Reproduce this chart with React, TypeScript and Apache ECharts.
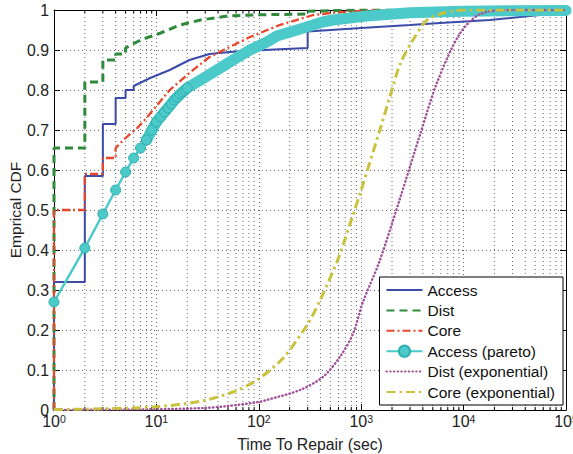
import React, { useEffect, useRef } from "react";
import * as echarts from "echarts";

// ---- data ----
const accessX = [1, 1, 2, 2, 3, 3, 4, 4, 5, 5, 6, 6, 8.7, 13.5, 21, 33, 52, 82, 160, 300, 300, 1000, 3000, 5900, 18000, 55000, 100000];
const accessY = [0, 0.32, 0.32, 0.585, 0.585, 0.715, 0.715, 0.78, 0.78, 0.8, 0.8, 0.81, 0.83, 0.85, 0.875, 0.89, 0.895, 0.898, 0.902, 0.905, 0.946, 0.955, 0.9625, 0.9675, 0.975, 0.9875, 1.0];

const distX = [1, 1, 2, 2, 3, 3, 4, 4, 5, 5, 7, 11, 17, 27, 50, 100, 300, 300, 1000, 100000];
const distY = [0, 0.655, 0.655, 0.82, 0.82, 0.875, 0.875, 0.89, 0.89, 0.905, 0.925, 0.9425, 0.9625, 0.975, 0.985, 0.988, 0.99, 0.997, 1, 1];

const coreX = [1, 1, 2, 2, 3, 3, 4, 4, 5, 6.5, 8, 10, 13.5, 21, 33, 52, 82, 160, 340, 530, 1000, 100000];
const coreY = [0, 0.5, 0.5, 0.59, 0.59, 0.63, 0.63, 0.655, 0.68, 0.705, 0.73, 0.76, 0.8, 0.8425, 0.8825, 0.9075, 0.9325, 0.9625, 0.9875, 0.993, 0.998, 1];

const paretoX = [1, 2, 3, 4, 5, 6, 7, 8, 9, 10, 11, 12, 13, 14, 15, 16, 17, 18, 19, 20];
const paretoY = [0.27, 0.405, 0.49, 0.55, 0.595, 0.63, 0.655, 0.675, 0.7, 0.72, 0.733, 0.745, 0.755, 0.765, 0.775, 0.782, 0.79, 0.795, 0.8, 0.805];

const paretoBandX = [8, 10, 15, 20, 27, 42, 56, 82, 120, 150, 250, 420, 530, 1130, 3000, 10000, 100000];
const paretoBandY = [0.675, 0.72, 0.775, 0.805, 0.825, 0.855, 0.875, 0.9, 0.92, 0.935, 0.952, 0.97, 0.975, 0.985, 0.993, 0.997, 0.999];

const distExpX = [1, 10, 30, 50, 100, 119, 253, 424, 620, 830, 1040, 1500, 2400, 3770, 5530, 9150, 14500, 30000, 100000];
const distExpY = [0, 0.002, 0.005, 0.01, 0.02, 0.025, 0.05, 0.083, 0.133, 0.19, 0.27, 0.37, 0.53, 0.69, 0.82, 0.94, 0.99, 1, 1];

const coreExpX = [1, 3, 10, 27, 56, 96, 173, 300, 398, 600, 800, 1000, 1520, 2050, 2400, 3200, 4400, 5900, 8000, 10000, 100000];
const coreExpY = [0.001, 0.003, 0.008, 0.022, 0.045, 0.075, 0.13, 0.215, 0.275, 0.38, 0.475, 0.55, 0.7, 0.81, 0.865, 0.925, 0.975, 0.99, 0.998, 1, 1];

const legendNames = ["Access", "Dist", "Core", "Access (pareto)", "Dist (exponential)", "Core (exponential)"];
const decades = [1, 10, 100, 1000, 10000];
const minorMultipliers = [2, 3, 4, 5, 6, 7, 8, 9];

const pairs = (xs: number[], ys: number[]) => xs.map((x, i) => [x, ys[i]]);

export default function App() {
  const ref = useRef<HTMLDivElement>(null);
  useEffect(() => {
    const chart = echarts.init(ref.current!, null, { renderer: "svg" });
    const font = "'Liberation Sans', Arial, sans-serif";
    const gridColor = "#666";
    const minorTicks: number[] = [];
    decades.forEach((d) => minorMultipliers.forEach((m) => minorTicks.push(d * m)));

    const xBase = {
      type: "log",
      logBase: 10,
      min: 1,
      max: 100000,
      splitNumber: 5,
      axisLine: { show: true, onZero: false, lineStyle: { color: "#000", width: 1 } },
      axisTick: { show: true, inside: true, length: 6, lineStyle: { color: "#000" } },
    };
    const yBase = {
      type: "value",
      min: 0,
      max: 1,
      interval: 0.1,
      axisLine: { show: true, onZero: false, lineStyle: { color: "#000", width: 1 } },
      axisTick: { show: true, inside: true, length: 6, lineStyle: { color: "#000" } },
    };
    const noSymbol = { color: "rgba(0,0,0,0)", borderWidth: 0, opacity: 0 };

    chart.setOption({
      animation: false,
      backgroundColor: "#fff",
      textStyle: { fontFamily: font },
      grid: { left: 54, right: 7, top: 10, bottom: 44, containLabel: false, outerBoundsMode: "none" },
      legend: {
        data: legendNames.map((n) => (n === "Access (pareto)" ? { name: n } : { name: n, itemStyle: noSymbol })),
        orient: "vertical",
        right: 10,
        bottom: 49,
        backgroundColor: "#fff",
        borderColor: "#000",
        borderWidth: 1,
        borderRadius: 0,
        padding: [5, 8, 5, 6],
        itemWidth: 36,
        itemHeight: 14,
        itemGap: 4.4,
        textStyle: { fontSize: 15.5, color: "#111", fontFamily: font, lineHeight: 15 },
      },
      xAxis: [
        {
          ...xBase,
          position: "bottom",
          splitLine: { show: true, lineStyle: { color: gridColor, type: [1, 3], width: 1 } },
          axisLabel: {
            margin: 3,
            formatter: (v: number) => `{b|10}{s|${Math.round(Math.log10(v))}}`,
            rich: {
              b: { fontSize: 16, lineHeight: 16, padding: [7, 0, 0, 0], verticalAlign: "bottom", color: "#222", fontFamily: font },
              s: { fontSize: 10.5, lineHeight: 10, verticalAlign: "top", color: "#222", fontFamily: font },
            },
          },
          name: "Time To Repair (sec)",
          nameLocation: "middle",
          nameGap: 26,
          nameMoveOverlap: false,
          nameTextStyle: { fontSize: 15.8, color: "#222", fontFamily: font },
        },
        {
          ...xBase,
          position: "top",
          axisLabel: { show: false },
          splitLine: { show: false },
        },
      ],
      yAxis: [
        {
          ...yBase,
          position: "left",
          splitLine: { show: true, lineStyle: { color: gridColor, type: [1, 3], width: 1 } },
          axisLabel: { fontSize: 15.8, color: "#222", margin: 5, fontFamily: font },
          name: "Emprical CDF",
          nameLocation: "middle",
          nameGap: 31,
          nameMoveOverlap: false,
          nameTextStyle: { fontSize: 15.5, color: "#222", fontFamily: font },
        },
        {
          ...yBase,
          position: "right",
          axisLabel: { show: false },
          splitLine: { show: false },
        },
      ],
      series: [
        {
          type: "custom",
          name: "minorGrid",
          silent: true,
          z: 1,
          xAxisIndex: 0,
          yAxisIndex: 0,
          encode: { x: 0, y: 1 },
          data: minorTicks.map((v) => [v, 0]),
          renderItem: (params: any, api: any) => {
            const v = api.value(0);
            const pB = api.coord([v, 0]);
            const pT = api.coord([v, 1]);
            return {
              type: "group",
              children: [
                { type: "line", shape: { x1: pB[0], y1: pB[1], x2: pT[0], y2: pT[1] }, style: { stroke: gridColor, lineWidth: 1, lineDash: [1, 3] } },
                { type: "line", shape: { x1: pB[0], y1: pB[1], x2: pB[0], y2: pB[1] - 3 }, style: { stroke: "#000", lineWidth: 1 } },
                { type: "line", shape: { x1: pT[0], y1: pT[1], x2: pT[0], y2: pT[1] + 3 }, style: { stroke: "#000", lineWidth: 1 } },
              ],
            };
          },
        },
        {
          name: "Access",
          type: "line",
          data: pairs(accessX, accessY),
          symbol: "none",
          color: "#3b4ba8",
          lineStyle: { color: "#3b4ba8", width: 2 },
          z: 3,
        },
        {
          name: "Dist",
          type: "line",
          data: pairs(distX, distY),
          symbol: "none",
          color: "#2f8a3b",
          lineStyle: { color: "#2f8a3b", width: 3, type: [8, 5] },
          z: 3,
        },
        {
          name: "Core",
          type: "line",
          data: pairs(coreX, coreY),
          symbol: "none",
          color: "#e8462a",
          lineStyle: { color: "#e8462a", width: 2.3, type: [8, 3, 2, 3] },
          z: 3,
        },
        {
          name: "paretoBand",
          type: "line",
          data: pairs(paretoBandX, paretoBandY),
          symbol: "none",
          clip: false,
          color: "#4cc9c9",
          lineStyle: { color: "#4cc9c9", width: 11, cap: "round", join: "round" },
          z: 3,
        },
        {
          name: "Access (pareto)",
          type: "line",
          data: pairs(paretoX, paretoY),
          symbol: "circle",
          symbolSize: 10,
          showSymbol: true,
          clip: false,
          color: "#4cc9c9",
          itemStyle: { color: "#4cc9c9", borderColor: "#2fb0b0", borderWidth: 1 },
          lineStyle: { color: "#4cc9c9", width: 2.5 },
          z: 3,
        },
        {
          name: "Dist (exponential)",
          type: "line",
          data: pairs(distExpX, distExpY),
          symbol: "none",
          smooth: 0.3,
          color: "#a0509a",
          lineStyle: { color: "#a0509a", width: 2.4, type: [0.5, 3.2], cap: "round" },
          z: 3,
        },
        {
          name: "Core (exponential)",
          type: "line",
          data: pairs(coreExpX, coreExpY),
          symbol: "none",
          smooth: 0.3,
          color: "#c9c23d",
          lineStyle: { color: "#c9c23d", width: 3, type: [9, 4, 2.5, 4] },
          z: 3,
        },
      ],
    });
    return () => chart.dispose();
  }, []);
  return <div ref={ref} style={{ position: "fixed", left: 0, top: 0, width: 573, height: 454 }} />;
}
